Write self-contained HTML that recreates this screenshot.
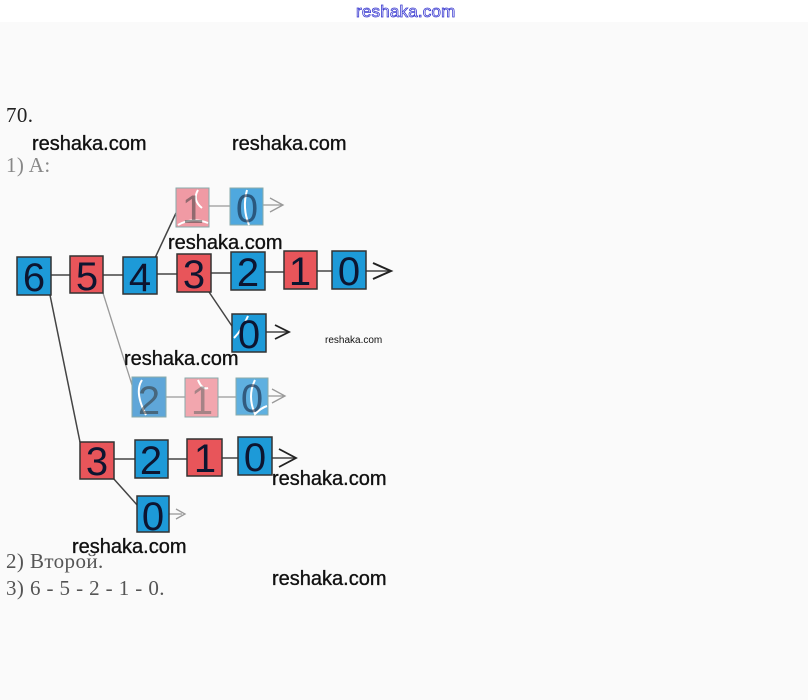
<!DOCTYPE html>
<html><head><meta charset="utf-8"><style>
html,body{margin:0;padding:0;background:#fafafa;}
svg{display:block;}
.d{font-family:"Liberation Sans",sans-serif;font-size:40px;fill:#0d1530;text-anchor:middle;}
.w{font-family:"Liberation Sans",sans-serif;font-size:20px;fill:#111;stroke:#111;stroke-width:0.35;}
.s{font-family:"Liberation Serif",serif;font-size:21px;letter-spacing:0.4px;}
</style></head><body>
<svg width="808" height="700" viewBox="0 0 808 700" xmlns="http://www.w3.org/2000/svg">
<rect x="0" y="0" width="808" height="700" fill="#fafafa"/>
<rect x="0" y="0" width="808" height="22" fill="#ffffff"/>
<text x="356" y="17" font-family="Liberation Sans,sans-serif" font-size="17" letter-spacing="0.2" fill="#ffffff" stroke="#3a3ad0" stroke-width="0.8">reshaka.com</text>

<text class="s" x="6" y="122" fill="#222">70.</text>
<text class="s" x="6" y="172" fill="#888">1) A:</text>
<text class="s" x="6" y="568" fill="#555">2) Второй.</text>
<text class="s" x="6" y="595" fill="#555">3) 6 - 5 - 2 - 1 - 0.</text>

<!-- connectors -->
<g stroke="#444" stroke-width="1.5" fill="none">
<line x1="51" y1="275" x2="70" y2="275"/>
<line x1="103" y1="275" x2="123" y2="275"/>
<line x1="157" y1="274" x2="177" y2="274"/>
<line x1="211" y1="273" x2="231" y2="273"/>
<line x1="265" y1="272" x2="284" y2="272"/>
<line x1="317" y1="271" x2="332" y2="271"/>
<line x1="366" y1="271" x2="390" y2="271"/>
<polyline points="373,263 391,271 373,279" stroke="#222" stroke-width="2"/>
<line x1="155" y1="258" x2="176" y2="213"/>
<line x1="209" y1="292" x2="236" y2="332"/>
<line x1="266" y1="332" x2="288" y2="332"/>
<polyline points="275,325 289,332 275,339" stroke="#222" stroke-width="1.8"/>
<line x1="114" y1="459" x2="135" y2="459"/>
<line x1="168" y1="459" x2="187" y2="459"/>
<line x1="222" y1="458" x2="238" y2="458"/>
<line x1="272" y1="458" x2="295" y2="458"/>
<polyline points="279,449 296,458 279,467" stroke="#222" stroke-width="1.8"/>
<line x1="50" y1="295" x2="80" y2="442"/>
<line x1="113" y1="478" x2="138" y2="506"/>
</g>
<g stroke="#999" stroke-width="1.3" fill="none">
<line x1="209" y1="206" x2="230" y2="206"/>
<line x1="263" y1="205" x2="282" y2="205"/>
<polyline points="270,198 283,205 270,212"/>
<line x1="103" y1="293" x2="133" y2="388"/>
<line x1="166" y1="397" x2="185" y2="397"/>
<line x1="218" y1="397" x2="236" y2="397"/>
<line x1="268" y1="396" x2="284" y2="396"/>
<polyline points="272,389 285,396 272,403"/>
<line x1="169" y1="514" x2="182" y2="514"/>
<polyline points="176,509 185,514 176,519"/>
</g>

<!-- main row -->
<g stroke="#333" stroke-width="1.5">
<rect x="17" y="257" width="34" height="38" fill="#1d9ad8"/>
<rect x="70" y="256" width="33" height="37" fill="#e8555a"/>
<rect x="123" y="257" width="34" height="37" fill="#1d9ad8"/>
<rect x="177" y="254" width="34" height="38" fill="#e8555a"/>
<rect x="231" y="252" width="34" height="38" fill="#1d9ad8"/>
<rect x="284" y="251" width="33" height="38" fill="#e8555a"/>
<rect x="332" y="251" width="34" height="38" fill="#1d9ad8"/>
<rect x="232" y="314" width="34" height="38" fill="#1d9ad8"/>
<rect x="80" y="442" width="34" height="37" fill="#e8555a"/>
<rect x="135" y="440" width="33" height="38" fill="#1d9ad8"/>
<rect x="187" y="439" width="35" height="37" fill="#e8555a"/>
<rect x="238" y="437" width="34" height="38" fill="#1d9ad8"/>
<rect x="137" y="496" width="32" height="36" fill="#1d9ad8"/>
</g>
<!-- faded boxes -->
<g stroke="#8aa" stroke-width="1">
<rect x="176" y="188" width="33" height="39" fill="#f09aa4"/>
<rect x="230" y="188" width="33" height="37" fill="#4fa8de"/>
<rect x="132" y="377" width="34" height="40" fill="#5fa6d8"/>
<rect x="185" y="378" width="33" height="39" fill="#f2a6ae"/>
<rect x="236" y="378" width="32" height="37" fill="#5fb0e0"/>
</g>
<g stroke="#fff" stroke-width="2" fill="none">
<path d="M178,225 q14,-8 30,-2"/>
<path d="M198,190 q-6,10 4,18"/>
<path d="M247,190 q-5,18 2,35"/>
<path d="M248,316 q-6,14 -14,22"/>
<path d="M142,380 q-8,12 4,35"/>
<path d="M198,380 q4,10 10,8"/>
<path d="M255,380 q-8,16 0,34 q6,-6 12,-8"/>
</g>

<g class="d">
<text x="34" y="291">6</text>
<text x="87" y="290">5</text>
<text x="140" y="291">4</text>
<text x="194" y="288">3</text>
<text x="248" y="286">2</text>
<text x="300" y="285">1</text>
<text x="349" y="285">0</text>
<text x="249" y="348">0</text>
<text x="97" y="475">3</text>
<text x="151" y="474">2</text>
<text x="205" y="472">1</text>
<text x="255" y="471">0</text>
<text x="153" y="530">0</text>
</g>
<g class="d" fill-opacity="0.55">
<text x="193" y="223" fill="#444">1</text>
<text x="247" y="222" fill="#0d1530">0</text>
<text x="149" y="414" fill="#333">2</text>
<text x="202" y="414" fill="#666">1</text>
<text x="252" y="412" fill="#0d1530">0</text>
</g>

<text class="w" x="32" y="150">reshaka.com</text>
<text class="w" x="232" y="150">reshaka.com</text>
<text class="w" x="168" y="249">reshaka.com</text>
<text class="w" x="124" y="365">reshaka.com</text>
<text class="w" x="272" y="485">reshaka.com</text>
<text class="w" x="72" y="553">reshaka.com</text>
<text class="w" x="272" y="585">reshaka.com</text>
<text x="325" y="343" font-family="Liberation Sans,sans-serif" font-size="10" fill="#111">reshaka.com</text>
</svg>
</body></html>
